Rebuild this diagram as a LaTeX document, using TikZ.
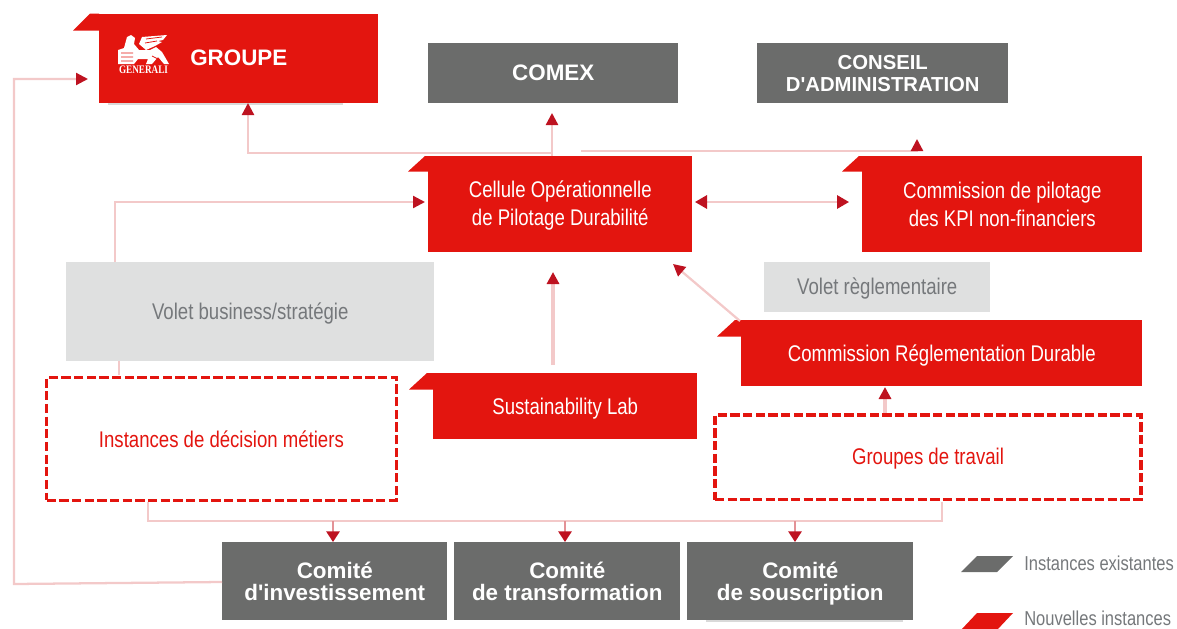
\documentclass[tikz,border=0pt]{standalone}
\usepackage{fontspec}
\usetikzlibrary{arrows.meta}
\setmainfont{Liberation Sans}
\newfontfamily\narrowf[FakeStretch=0.82]{Liberation Sans}
\newfontfamily\logof[FakeStretch=0.8]{Liberation Serif}
\definecolor{gred}{HTML}{E3150F}
\definecolor{ggrey}{HTML}{6B6C6B}
\definecolor{lgrey}{HTML}{DFE0E0}
\definecolor{vtext}{HTML}{75787B}
\definecolor{pink}{HTML}{F3C9C9}
\definecolor{tipred}{HTML}{BE1220}
\newcommand{\lowr}[2][1.5pt]{\raisebox{-#1}[\height][\depth]{#2}}
\tikzset{
  box/.style={anchor=north west,inner sep=0pt,align=center,minimum width=#1},
  greybox/.style={fill=ggrey,text=white,font=\fontsize{16.8pt}{17pt}\selectfont\bfseries},
  redbox/.style={fill=gred,text=white,font=\narrowf\fontsize{17pt}{20.5pt}\selectfont},
  voletbox/.style={fill=lgrey,text=vtext,font=\narrowf\fontsize{17pt}{20pt}\selectfont},
  dashbox/.style={draw=gred,line width=2.5pt,dash pattern=on 6.9pt off 2.6pt,text=gred,font=\narrowf\fontsize{17pt}{20pt}\selectfont},
  legendtext/.style={anchor=west,inner sep=0pt,text=vtext,font=\narrowf\fontsize{15.1pt}{18pt}\selectfont},
  conn/.style={draw=pink,line width=1.7pt,-{Triangle[length=9pt,width=9pt,color=tipred]}},
  plainconn/.style={draw=pink,line width=1.7pt},
  thinconn/.style={draw=pink!70!tipred,line width=1.4pt,-{Triangle[length=8pt,width=10pt,color=tipred]}},
  tab/.style={fill=gred},
  shadowline/.style={draw=black!15,line width=1.5pt},
}
\begin{document}
\begin{tikzpicture}[x=0.75pt,y=-0.75pt]
\useasboundingbox (0,0) rectangle (1177,628);
% tabs
\fill[tab] (99,30.5) -- (73,30.5) -- (90,13.5) -- (99,13.5) -- cycle;
\fill[tab] (428,171.5) -- (408,171.5) -- (425,156) -- (428,156) -- cycle;
\fill[tab] (862,171.5) -- (842,171.5) -- (859,156) -- (862,156) -- cycle;
\fill[tab] (741,336.5) -- (717,336.5) -- (735,320) -- (741,320) -- cycle;
\fill[tab] (433,389.5) -- (409,389.5) -- (427,373) -- (433,373) -- cycle;
% shadows
\draw[shadowline] (108,104) -- (343,104);
\draw[shadowline] (706,621) -- (903,621);
% boxes
\node[box=279*0.75pt,redbox,minimum height=66.75pt] (groupe) at (99,13.5) {};
\node[anchor=west,inner sep=0pt,text=white,font=\fontsize{16.8pt}{17pt}\selectfont\bfseries] (groupetxt) at (190,58) {GROUPE};
\node[anchor=north,inner sep=0pt,text=white,font=\logof\fontsize{8.6pt}{9pt}\selectfont\bfseries] (generali) at (143.5,66) {GENERALI};
% simplified lion
\fill[white] (118,64) -- (118,50) -- (124,48) -- (127,37) -- (131,35) -- (135,38) -- (134,44) -- (139,50) -- (150,50) -- (156,47) -- (162,52) -- (169,64) -- (164,64) -- (158,57) -- (152,64) -- (146,64) -- (148,59) -- (138,59) -- (134,64) -- cycle;
\fill[white] (139,44) -- (142,37) -- (167,35) -- (163,40) -- (158,41) -- (162,42) -- (155,46) -- (146,50) -- cycle;
\draw[gred,line width=0.6pt] (121,53) -- (133,53) (121,57) -- (133,57) (121,61) -- (133,61) (146,39) -- (162,37) (145,43) -- (157,41) (152,56) -- (160,60);
\node[box=250*0.75pt,greybox,minimum height=45pt] (comex) at (428,43) {COMEX};
\node[box=251*0.75pt,greybox,minimum height=45pt,font=\fontsize{15.2pt}{16.8pt}\selectfont\bfseries] (conseil) at (757,43) {CONSEIL\\D\textquotesingle ADMINISTRATION};
\node[box=264*0.75pt,redbox,minimum height=72pt] (cell) at (428,156) {\lowr[1pt]{Cellule Opérationnelle}\\\lowr[1pt]{de Pilotage Durabilité}};
\node[box=280*0.75pt,redbox,minimum height=72pt] (pilot) at (862,156) {Commission de pilotage\\des KPI non-financiers};
\node[box=368*0.75pt,voletbox,minimum height=74.25pt] (vbus) at (66,262) {\lowr{Volet business/stratégie}};
\node[box=226*0.75pt,voletbox,minimum height=37.5pt] (vreg) at (764,262) {\lowr[0.8pt]{Volet règlementaire}};
\node[box=401*0.75pt,redbox,minimum height=49.5pt] (creg) at (741,320) {\lowr{Commission Réglementation Durable}};
\node[box=264*0.75pt,redbox,minimum height=49.5pt] (slab) at (433,373) {\lowr{Sustainability Lab}};
\node[box=349.5*0.75pt,dashbox,minimum height=92.25pt] (inst) at (45,375.5) {\lowr[0.8pt]{Instances de décision métiers}};
\node[box=426*0.75pt,dashbox,minimum height=63.5pt] (gt) at (713.3,413.3) {\lowr[1.2pt]{Groupes de travail}};
\node[box=225*0.75pt,greybox,minimum height=58.5pt] (cinv) at (222,542) {\lowr[0.3pt]{Comité}\\{d\textquotesingle investissement}};
\node[box=226*0.75pt,greybox,minimum height=58.5pt] (ctra) at (454,542) {\lowr[0.3pt]{Comité}\\{de transformation}};
\node[box=226*0.75pt,greybox,minimum height=58.5pt] (csou) at (687,542) {\lowr[1.7pt]{Comité}\\\lowr[1.2pt]{de souscription}};
% connectors
\coordinate (groupeL) at (88,79);
\draw[conn] (cinv.west |- 0,582) -- (14,584) -- (14,79) -- (groupeL);
\draw[plainconn] (119,375) -- (119,361);
\draw[conn] (115,262) -- (115,202) -- (425,202);
\draw[conn] (552,156) -- (552,153) -- (248,153) -- (248,103);
\draw[conn] (552,156) -- (552,113);
\coordinate (consT) at (917,139);
\draw[conn] (581,151) -- (917,151) -- (consT);
\draw[draw=pink,line width=1.6pt,{Triangle[length=9pt,width=10pt,color=tipred]}-{Triangle[length=9pt,width=10pt,color=tipred]}] (695,202) -- (849,202);
\draw[conn,line width=2.4pt] (553,365) -- (553,272);
\draw[conn] (740,321) -- (673,264);
\draw[conn,line width=3pt] (885,413) -- (885,387);
\draw[plainconn,line width=1.4pt] (148,502) -- (148,521) -- (942,521) -- (942,502);
\draw[thinconn] (333,521) -- (333,542);
\draw[thinconn] (565,521) -- (565,542);
\draw[thinconn] (795,521) -- (795,542);
% legend
\fill[ggrey] (961,572) -- (977,556) -- (1013,556) -- (997,572) -- cycle;
\fill[gred] (961,630) -- (977,613) -- (1013,613) -- (997,630) -- cycle;
\node[legendtext] (lg1) at (1024,563.5) {Instances existantes};
\node[legendtext] (lg2) at (1024,618) {Nouvelles instances};
\end{tikzpicture}
\end{document}
